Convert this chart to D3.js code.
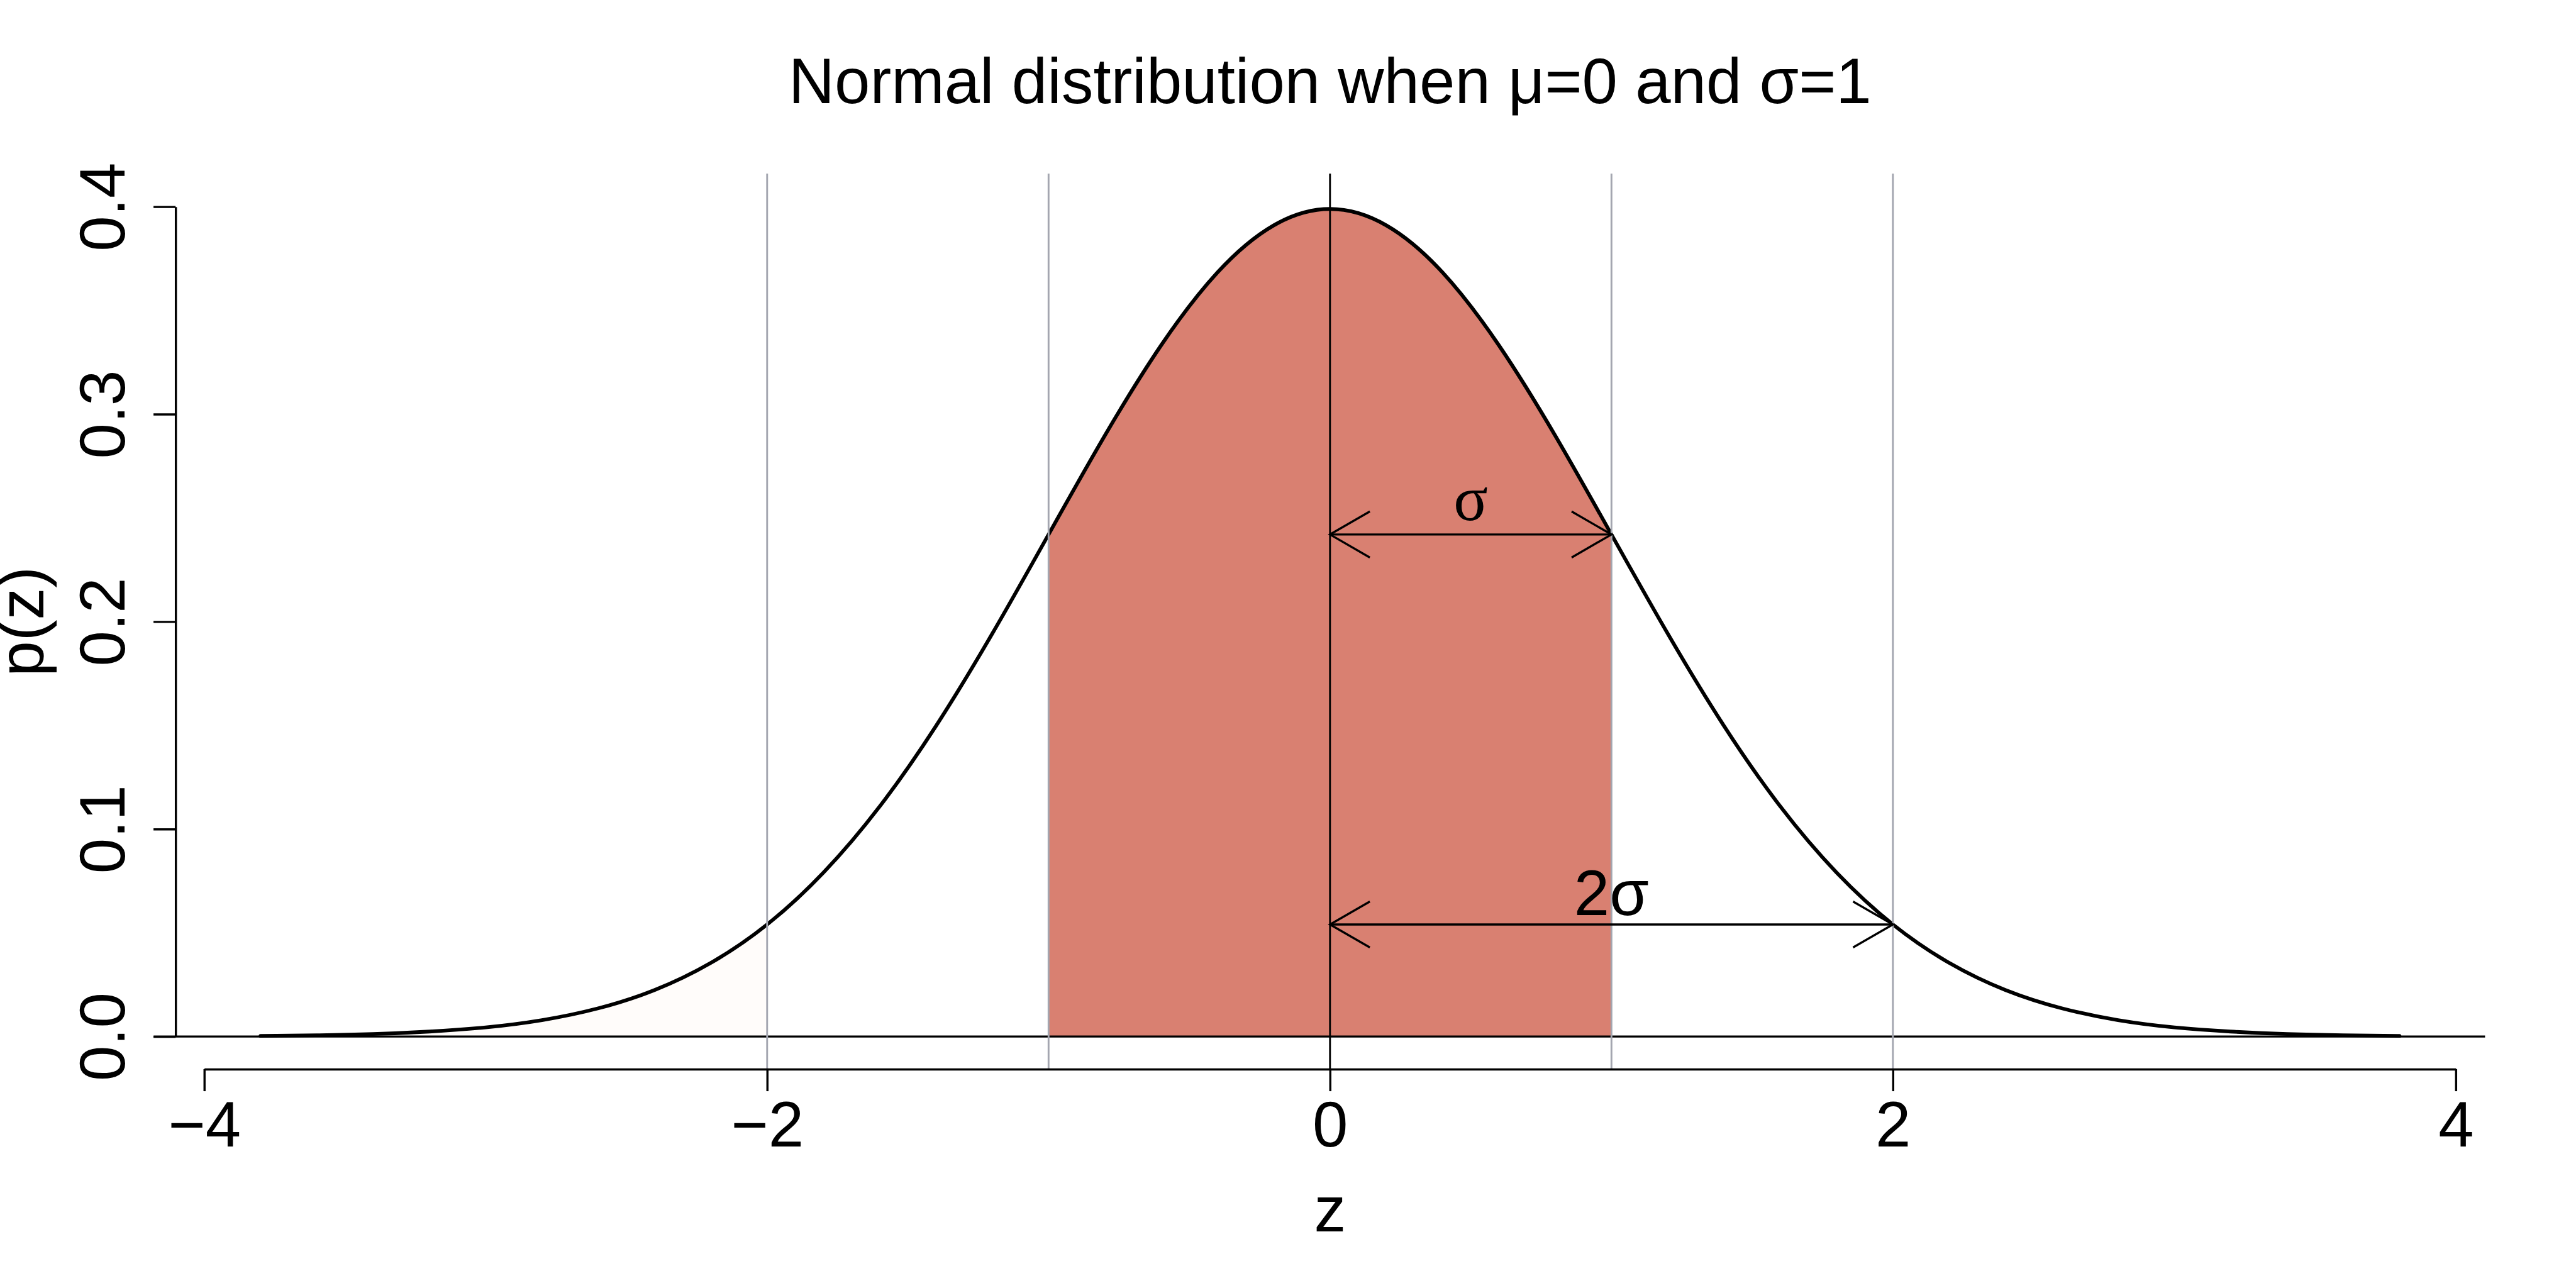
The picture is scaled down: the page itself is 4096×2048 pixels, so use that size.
<!DOCTYPE html>
<html>
<head>
<meta charset="utf-8">
<script src="https://cdn.jsdelivr.net/npm/d3@7"></script>
<style>
  html, body { margin: 0; padding: 0; background: #ffffff; }
  svg { display: block; }
  text { font-family: "Liberation Sans", Arial, Helvetica, sans-serif; fill: #000; }
</style>
</head>
<body>
<script>
// ---------------- data ----------------
const zValues = [-3.8, -3.6, -3.4, -3.2, -3.0, -2.8, -2.6, -2.4, -2.2, -2.0,
                 -1.8, -1.6, -1.4, -1.2, -1.0, -0.8, -0.6, -0.4, -0.2, 0.0,
                  0.2,  0.4,  0.6,  0.8,  1.0,  1.2,  1.4,  1.6,  1.8,  2.0,
                  2.2,  2.4,  2.6,  2.8,  3.0,  3.2,  3.4,  3.6,  3.8];
const density = [0.0003, 0.0006, 0.0012, 0.0024, 0.0044, 0.0079, 0.0136, 0.0224, 0.0355, 0.0540,
                 0.0790, 0.1109, 0.1497, 0.1942, 0.2420, 0.2897, 0.3332, 0.3683, 0.3910, 0.3989,
                 0.3910, 0.3683, 0.3332, 0.2897, 0.2420, 0.1942, 0.1497, 0.1109, 0.0790, 0.0540,
                 0.0355, 0.0224, 0.0136, 0.0079, 0.0044, 0.0024, 0.0012, 0.0006, 0.0003];
const shadeRange = [-1, 1];
const faintRange = [-3.8, -2];
const greyLines = [-2, -1, 1, 2];
const meanLine = [0];
const xTicks = [-4, -2, 0, 2, 4];
const xTickLabels = ["\u22124", "\u22122", "0", "2", "4"];
const yTicks = [0, 0.1, 0.2, 0.3, 0.4];
const yTickLabels = ["0.0", "0.1", "0.2", "0.3", "0.4"];
const arrowFrom = [0, 0];
const arrowTo = [1, 2];
const arrowY = [0.242, 0.054];
const arrowLabels = ["\u03C3", "2\u03C3"];
const arrowLabelX = [0.5, 1.0];
const arrowLabelY = [0.249, 0.0585];
const titleText = "Normal distribution when \u03BC=0 and \u03C3=1";
const xLabel = "z";
const yLabel = "p(z)";

// ---------------- layout (reference pixel space, scaled by viewBox) ----------------
const W = 4200, H = 2100;
const svg = d3.select("body").append("svg")
  .attr("width", 4096).attr("height", 2048)
  .attr("viewBox", `0 0 ${W} ${H}`);

const x = d3.scaleLinear().domain([-4, 4]).range([333, 4004]);
const y = d3.scaleLinear().domain([0, 0.4]).range([1690, 337]);
const FS = 104;
const LW = 3.5;
const plotTop = y(0.416), plotBottom = y(-0.016);
const plotLeft = x(-4.104), plotRight = x(4.104);

const pts = zValues.map((z, i) => ({ z: z, p: density[i] }));
const inRange = (r) => pts.filter(d => d.z >= r[0] - 1e-9 && d.z <= r[1] + 1e-9);

const area = d3.area().x(d => x(d.z)).y0(y(0)).y1(d => y(d.p)).curve(d3.curveNatural);
const line = d3.line().x(d => x(d.z)).y(d => y(d.p)).curve(d3.curveNatural);

// faint fill in the left tail
svg.append("path").datum(inRange(faintRange))
  .attr("d", area).attr("fill", "#fffcfa");

// shaded region between -1 and 1
svg.append("path").datum(inRange(shadeRange))
  .attr("d", area).attr("fill", "#d98071");

// density curve
svg.append("path").datum(pts)
  .attr("d", line).attr("fill", "none")
  .attr("stroke", "#000").attr("stroke-width", 6)
  .attr("stroke-linecap", "round").attr("stroke-linejoin", "round");

// horizontal line at p = 0
svg.append("line")
  .attr("x1", x(-4.18)).attr("x2", plotRight)
  .attr("y1", y(0)).attr("y2", y(0))
  .attr("stroke", "#000").attr("stroke-width", LW);

// grey reference lines
svg.selectAll("line.grey").data(greyLines).enter().append("line")
  .attr("class", "grey")
  .attr("x1", d => x(d)).attr("x2", d => x(d))
  .attr("y1", plotTop).attr("y2", plotBottom)
  .attr("stroke", "#a4a6b0").attr("stroke-width", 3);

// mean line
svg.selectAll("line.mean").data(meanLine).enter().append("line")
  .attr("class", "mean")
  .attr("x1", d => x(d)).attr("x2", d => x(d))
  .attr("y1", plotTop).attr("y2", plotBottom)
  .attr("stroke", "#000").attr("stroke-width", 3);

// x axis
const xAxis = d3.axisBottom(x).tickValues(xTicks).tickSize(36).tickSizeOuter(0)
  .tickFormat((d, i) => xTickLabels[i]);
const gx = svg.append("g").attr("transform", `translate(0,${plotBottom - 1})`).call(xAxis);
gx.select(".domain").attr("stroke", "#000").attr("stroke-width", LW);
gx.selectAll(".tick line").attr("stroke", "#000").attr("stroke-width", LW);
gx.selectAll(".tick text")
  .attr("y", 126).attr("dy", 0)
  .attr("font-size", FS)
  .attr("font-family", "Liberation Sans, Arial, sans-serif")
  .attr("fill", "#000");

// y axis
const yAxis = d3.axisLeft(y).tickValues(yTicks).tickSize(36).tickSizeOuter(0)
  .tickFormat((d, i) => yTickLabels[i]);
const gy = svg.append("g").attr("transform", `translate(${plotLeft + 1},0)`).call(yAxis);
gy.select(".domain").attr("stroke", "#000").attr("stroke-width", LW);
gy.selectAll(".tick line").attr("stroke", "#000").attr("stroke-width", LW);
gy.selectAll(".tick text")
  .attr("x", 0).attr("y", 0).attr("dy", 0)
  .attr("text-anchor", "middle")
  .attr("transform", "translate(-83,0) rotate(-90)")
  .attr("font-size", FS)
  .attr("font-family", "Liberation Sans, Arial, sans-serif")
  .attr("fill", "#000");

// arrows (double headed)
const headLen = 75, headAng = Math.PI / 6;
arrowFrom.forEach((f, i) => {
  const x1 = x(f), x2 = x(arrowTo[i]), yy = y(arrowY[i]);
  const dx = headLen * Math.cos(headAng), dy = headLen * Math.sin(headAng);
  const g = svg.append("g").attr("stroke", "#000").attr("stroke-width", LW).attr("fill", "none");
  g.append("line").attr("x1", x1).attr("x2", x2).attr("y1", yy).attr("y2", yy);
  g.append("path").attr("d", `M${x1 + dx},${yy - dy}L${x1},${yy}L${x1 + dx},${yy + dy}`);
  g.append("path").attr("d", `M${x2 - dx},${yy - dy}L${x2},${yy}L${x2 - dx},${yy + dy}`);
});

// arrow labels
svg.append("text")
  .attr("x", x(arrowLabelX[0])).attr("y", y(arrowLabelY[0]))
  .attr("text-anchor", "middle").attr("font-size", FS)
  .style("font-family", "'Liberation Serif', 'DejaVu Serif', serif")
  .text(arrowLabels[0]);
svg.append("text")
  .attr("x", x(arrowLabelX[1])).attr("y", y(arrowLabelY[1]))
  .attr("text-anchor", "middle").attr("font-size", FS)
  .text(arrowLabels[1]);

// title
svg.append("text")
  .attr("x", (plotLeft + plotRight) / 2).attr("y", 168)
  .attr("text-anchor", "middle").attr("font-size", FS)
  .text(titleText);

// axis titles
svg.append("text")
  .attr("x", x(0)).attr("y", 2008)
  .attr("text-anchor", "middle").attr("font-size", FS)
  .text(xLabel);
svg.append("text")
  .attr("transform", `translate(71,${(y(0) + y(0.4)) / 2}) rotate(-90)`)
  .attr("text-anchor", "middle").attr("font-size", FS)
  .text(yLabel);
</script>
</body>
</html>
